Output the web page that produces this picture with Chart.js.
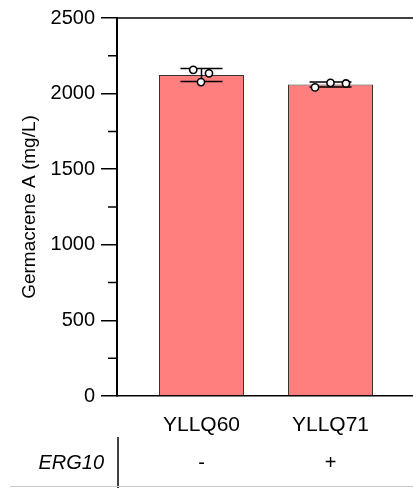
<!DOCTYPE html>
<html>
<head>
<meta charset="utf-8">
<script src="https://cdn.jsdelivr.net/npm/chart.js@4.4.1/dist/chart.umd.min.js"></script>
<style>
  html, body { margin: 0; padding: 0; background: #fff; }
  #wrap { width: 413px; height: 488px; }
</style>
</head>
<body>
<div id="wrap"><canvas id="chart" width="413" height="488"></canvas></div>
<script>
// data
const strains = ['YLLQ60', 'YLLQ71'];
const erg10 = ['-', '+'];
const means = [2123, 2060];
const sds = [43, 16];
const replicates = [
    [2157, 2134, 2076],
    [2041, 2071, 2067]
];
const yTicks = [0, 500, 1000, 1500, 2000, 2500];
const yMinorTicks = [250, 750, 1250, 1750, 2250];

// horizontal spread of the dots within a bar (x units)
const jitter = [[-0.064, 0.058, -0.004], [-0.12, 0, 0.12]];
const X_MIN = -0.655, X_MAX = 1.6395;

const FONT = 'Liberation Sans, Arial, sans-serif';

const dots = [];
replicates.forEach((reps, i) => {
    reps.forEach((v, j) => dots.push({ x: i + jitter[i][j], y: v }));
});

// error bars, minor ticks and the genotype row underneath
const extras = {
    id: 'extras',
    afterDatasetDraw(chart, args) {
        if (args.index !== 0) return;
        const ctx = chart.ctx;
        const x = chart.scales.x, y = chart.scales.y;
        ctx.save();
        ctx.strokeStyle = '#000';
        ctx.lineWidth = 1.5;
        means.forEach((m, i) => {
            const px = x.getPixelForValue(i);
            const top = y.getPixelForValue(m + sds[i]);
            const bot = y.getPixelForValue(m - sds[i]);
            ctx.beginPath();
            ctx.moveTo(px, top); ctx.lineTo(px, bot);
            ctx.moveTo(px - 21, top); ctx.lineTo(px + 21, top);
            ctx.moveTo(px - 21, bot); ctx.lineTo(px + 21, bot);
            ctx.stroke();
        });
        ctx.restore();
    },
    afterDraw(chart) {
        const ctx = chart.ctx;
        const x = chart.scales.x, y = chart.scales.y;
        const area = chart.chartArea;
        ctx.save();
        ctx.strokeStyle = '#000';
        ctx.lineWidth = 1.5;
        ctx.beginPath();
        yMinorTicks.forEach(v => {
            const py = y.getPixelForValue(v);
            ctx.moveTo(area.left - 9, py); ctx.lineTo(area.left, py);
        });
        // top frame line
        ctx.moveTo(area.left, area.top); ctx.lineTo(area.right, area.top);
        ctx.stroke();

        // genotype row
        ctx.beginPath();
        ctx.moveTo(area.left + 1, 437); ctx.lineTo(area.left + 1, 488);
        ctx.stroke();
        ctx.strokeStyle = '#c8c8c8';
        ctx.lineWidth = 1;
        ctx.beginPath();
        ctx.moveTo(10, 486.5); ctx.lineTo(413, 486.5);
        ctx.stroke();

        ctx.fillStyle = '#000';
        ctx.textBaseline = 'middle';
        ctx.textAlign = 'right';
        ctx.font = 'italic 20px ' + FONT;
        ctx.fillText('ERG10', 104, 463);
        ctx.textAlign = 'center';
        ctx.font = '20px ' + FONT;
        erg10.forEach((s, i) => ctx.fillText(s, x.getPixelForValue(i), 463));
        ctx.restore();
    }
};

new Chart(document.getElementById('chart'), {
    type: 'bar',
    data: {
        datasets: [
            {
                type: 'bar',
                data: means.map((m, i) => ({ x: i, y: m })),
                backgroundColor: '#ff7f7f',
                borderColor: '#333',
                borderWidth: 1,
                barPercentage: 0.659,
                categoryPercentage: 1,
                order: 2
            },
            {
                type: 'scatter',
                data: dots,
                pointRadius: 3.6,
                pointBackgroundColor: '#fff',
                pointBorderColor: '#000',
                pointBorderWidth: 1.6,
                order: 1
            }
        ]
    },
    plugins: [extras],
    options: {
        responsive: false,
        animation: false,
        layout: { autoPadding: false, padding: { top: 17, left: 0, right: 0, bottom: 0 } },
        plugins: { legend: { display: false }, tooltip: { enabled: false } },
        scales: {
            x: {
                type: 'linear',
                bounds: 'data',
                offset: false,
                min: X_MIN,
                max: X_MAX,
                afterDataLimits(scale) { scale.min = X_MIN; scale.max = X_MAX; },
                afterBuildTicks(scale) { scale.ticks = strains.map((s, i) => ({ value: i })); },
                afterFit(scale) {
                    scale.height = 92;
                    scale.paddingLeft = 0;
                    scale.paddingRight = 0;
                },
                grid: { display: false, drawTicks: false, offset: false },
                border: { display: true, color: '#000', width: 1.5 },
                ticks: {
                    padding: 17,
                    color: '#000',
                    font: { family: FONT, size: 21 },
                    callback: (v) => strains[v] || ''
                }
            },
            y: {
                min: 0,
                max: 2500,
                afterBuildTicks(scale) { scale.ticks = yTicks.map(v => ({ value: v })); },
                afterFit(scale) { scale.width = 117; },
                grid: {
                    drawOnChartArea: false,
                    drawTicks: true,
                    tickLength: 16,
                    tickColor: '#000',
                    lineWidth: 1.5
                },
                border: { display: true, color: '#000', width: 2 },
                ticks: {
                    padding: 6,
                    color: '#000',
                    font: { family: FONT, size: 20 },
                    callback: (v) => String(v)
                },
                title: {
                    display: true,
                    text: 'Germacrene A (mg/L)',
                    color: '#000',
                    font: { family: FONT, size: 19 },
                    padding: { top: 18, bottom: 0 }
                }
            }
        }
    }
});
</script>
</body>
</html>
